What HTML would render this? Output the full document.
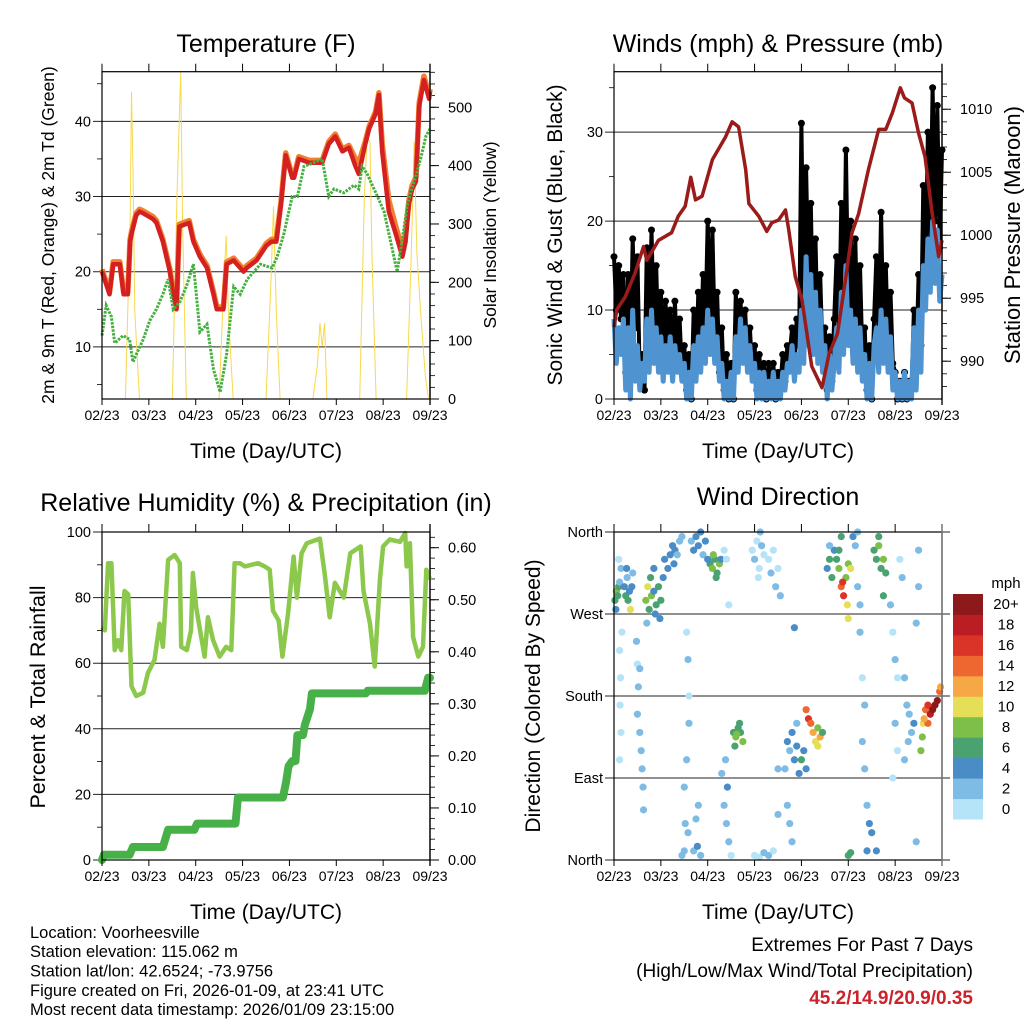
<!DOCTYPE html>
<html><head><meta charset="utf-8"><style>
html,body{margin:0;padding:0;background:#fff;}
svg{display:block;font-family:"Liberation Sans",sans-serif;}
</style></head><body>
<svg id="chart" width="1024" height="1024" viewBox="0 0 1024 1024" xmlns="http://www.w3.org/2000/svg">
<g id="texts" fill="#000">
<text x="266" y="52" font-size="25" text-anchor="middle">Temperature (F)</text>
<text x="778" y="52" font-size="25" text-anchor="middle">Winds (mph) &amp; Pressure (mb)</text>
<text x="266" y="511" font-size="25" text-anchor="middle">Relative Humidity (%) &amp; Precipitation (in)</text>
<text x="778" y="505" font-size="25" text-anchor="middle">Wind Direction</text>
<text x="266" y="458" font-size="21" text-anchor="middle">Time (Day/UTC)</text>
<text x="778" y="458" font-size="21" text-anchor="middle">Time (Day/UTC)</text>
<text x="266" y="919" font-size="21" text-anchor="middle">Time (Day/UTC)</text>
<text x="778" y="919" font-size="21" text-anchor="middle">Time (Day/UTC)</text>
<text transform="translate(54,235) rotate(-90)" font-size="17.5" text-anchor="middle">2m &amp; 9m T (Red, Orange) &amp; 2m Td (Green)</text>
<text transform="translate(496,235) rotate(-90)" font-size="17.5" text-anchor="middle">Solar Insolation (Yellow)</text>
<text transform="translate(562,235) rotate(-90)" font-size="21" text-anchor="middle">Sonic Wind &amp; Gust (Blue, Black)</text>
<text transform="translate(1020,235) rotate(-90)" font-size="22" text-anchor="middle">Station Pressure (Maroon)</text>
<text transform="translate(45,697) rotate(-90)" font-size="21.5" text-anchor="middle">Percent &amp; Total Rainfall</text>
<text transform="translate(540,696) rotate(-90)" font-size="21" text-anchor="middle">Direction (Colored By Speed)</text>
<text x="30" y="938" font-size="16.5">Location: Voorheesville</text>
<text x="30" y="957" font-size="16.5">Station elevation: 115.062 m</text>
<text x="30" y="976.5" font-size="16.5">Station lat/lon: 42.6524; -73.9756</text>
<text x="30" y="996" font-size="16.5">Figure created on Fri, 2026-01-09, at 23:41 UTC</text>
<text x="30" y="1015" font-size="16.5">Most recent data timestamp: 2026/01/09 23:15:00</text>
<text x="973" y="951" font-size="19" text-anchor="end">Extremes For Past 7 Days</text>
<text x="973" y="977" font-size="19" text-anchor="end">(High/Low/Max Wind/Total Precipitation)</text>
<text x="973" y="1004" font-size="19" font-weight="bold" fill="#cc2229" text-anchor="end">45.2/14.9/20.9/0.35</text>
<text x="1006" y="588" font-size="15" text-anchor="middle">mph</text>
</g>
</svg>
<script>
// ---------- data ----------
var monthLabels = ["02/23","03/23","04/23","05/23","06/23","07/23","08/23","09/23"];
var tempTimes = [0,0.16,0.24,0.38,0.46,0.55,0.6,0.63,0.73,0.8,0.87,1.09,1.16,1.3,1.45,1.52,1.59,1.65,1.86,1.95,2.09,2.24,2.38,2.45,2.59,2.66,2.81,2.88,3.02,3.09,3.3,3.51,3.62,3.72,3.82,3.92,4.06,4.1,4.2,4.42,4.63,4.7,4.84,4.98,5.13,5.27,5.41,5.48,5.62,5.7,5.84,5.91,5.98,6.12,6.27,6.41,6.48,6.55,6.62,6.7,6.77,6.87,6.98,7.0];
var tempRed = [20,17,21,21,17,17,24,25,27.5,28,27.8,27,26.5,24,20,17,15,26,26.5,24,22,20.5,17,15,15,21,21.5,21,20,20.5,21.5,23.5,24,24,29,35.5,32.5,32.5,35,34.5,34.5,34.5,37,38,36,36.5,34,33,37,39,41,43.5,36,28,25,22,24,29,31,32,42,45.5,43,44];
var tempOrange = [20.3,17.3,21.3,21.3,17.3,17.3,24.3,25.3,27.8,28.3,28.1,27.3,26.8,24.3,20.3,17.3,15.3,26.3,26.8,24.3,22.3,20.8,17.3,15.3,15.3,21.3,21.8,21.3,20.3,20.8,21.8,23.8,24.3,24.3,29.3,35.8,32.8,32.8,35.3,34.8,34.8,34.8,37.3,38.3,36.3,36.8,35,34.5,37.3,39.3,41.3,43.8,37,29.5,26,23,25,29.5,31.5,32.5,42.5,46,43.5,44.3];
var dewTimes = [0,0.09,0.2,0.27,0.45,0.59,0.66,0.88,1.02,1.16,1.3,1.41,1.52,1.66,1.8,1.95,2.09,2.24,2.38,2.52,2.66,2.81,2.95,3.1,3.38,3.63,3.74,3.88,4.06,4.17,4.31,4.52,4.7,4.84,4.95,5.16,5.38,5.48,5.55,5.66,5.88,6.02,6.3,6.45,6.52,6.66,6.8,6.91,7.0];
var dewValues = [11.5,15.5,14,10.5,11.5,11,8,11,13.5,15,17,19,15,16,18,21,12,13,7,4,9,18,17,19,21,20.5,22,25,30,30,34,34.5,35,30,31,30.5,31.5,31,34,33,30,28,20,26,29,32,35,38,39];
var solarTimes = [0.5,0.6,0.63,0.66,0.7,0.8,1.5,1.6,1.68,1.72,1.8,2.5,2.6,2.65,2.7,2.8,3.5,3.6,3.66,3.72,3.8,4.5,4.6,4.65,4.7,4.75,4.8,5.5,5.6,5.66,5.72,5.76,5.85,6.5,6.6,6.66,6.72,6.8,6.9,6.96,7.0];
var solarValues = [0,300,527,400,150,0,0,350,560,300,0,0,200,280,140,0,0,190,330,150,0,0,60,130,90,130,0,0,350,450,440,250,0,0,250,440,250,150,40,5,0];
var windTimes = [];
var windBlue = [9,4,8,5,9, 1,8,0,10,2,6,1,4,2, 9,3,10,4,8,3, 7,2,6,3,7,2,6,3,5,2, 4,0,3,0, 6,2,7,3,8,4,10,5,9,4, 7,2,4,0, 2,0,3,0, 7,3,9,4,8,3,6,2, 4,0,3,0,3,0, 2,0,3,0,2,0,3,1,4, 3,6,2,5,3, 10,4,16,6, 14,5,12,4,10,3, 6,0,5,1,4, 8,3,12,5,15,6, 10,4,9,3,8,2, 5,0,4,0,6, 8,3,10,4,9,3,7,1, 3,0,2,0,3,0,2,0, 8,1,10,3, 15,10,18,12,20,13,19,11,14];
var windGust = [16,10,15,9,14, 3,14,5,18,8,16,2,5,1, 17,6,19,8,15,5, 12,4,11,5,10,3,11,4,9,3, 6,1,5,0, 10,3,12,5,14,8,20,9,19,7, 12,3,8,1, 5,0,4,0, 12,5,11,6,10,4,8,3, 6,1,5,1,4,0, 4,1,4,0,3,1,5,2,6, 5,8,4,9,6, 31,10,26,12, 22,8,18,6,14,5, 8,1,7,2,9, 16,6,22,8,28,10, 20,7,18,6,15,5, 8,1,6,0,9, 16,6,21,7,15,6,12,4, 3,0,2,0,3,0,2,1, 10,4,14,6, 24,15,30,18,35,20,33,17,28];
for (var wi = 0; wi < windBlue.length; wi++) windTimes.push(wi * 0.05);
var presTimes = [0,0.06,0.24,0.45,0.63,0.7,0.95,1.23,1.37,1.52,1.64,1.74,1.88,2.1,2.38,2.52,2.66,2.81,2.88,3.09,3.26,3.37,3.51,3.66,3.73,3.87,4.01,4.22,4.44,4.59,4.77,4.95,5.08,5.22,5.43,5.65,5.8,5.94,6.11,6.2,6.36,6.5,6.64,6.78,6.93,7.0];
var presValues = [992.7,994.1,995.1,997,999.1,998,999.6,1000.2,1001.5,1002.3,1004.6,1002.8,1003.1,1006,1007.8,1009,1008.6,1005.2,1002.5,1001.5,1000.3,1001,1001.2,1002,1000.4,996.7,994.9,989.6,987.9,990.6,992.2,996.7,1000.2,1001.7,1005.2,1008.4,1008.4,1009.7,1011.7,1010.9,1010.5,1008.1,1006.2,1002,998.3,999.6];
var rhTimes = [0,0.06,0.13,0.2,0.27,0.34,0.41,0.48,0.56,0.63,0.73,0.88,0.98,1.12,1.23,1.3,1.41,1.55,1.66,1.69,1.81,1.9,1.94,2.01,2.08,2.19,2.26,2.37,2.51,2.65,2.76,2.83,2.94,3.05,3.33,3.47,3.58,3.65,3.77,3.85,3.97,4.09,4.16,4.26,4.37,4.65,4.76,4.86,4.97,5.16,5.3,5.52,5.58,5.72,5.82,5.93,6.0,6.14,6.36,6.47,6.5,6.57,6.64,6.75,6.85,6.92,7.0];
var rhValues = [71,70,90.5,90.5,64,67,64,82,81,53,50,51,57,61,72,65,91.5,93,90.5,65,64,70,87.5,77,71,62,74,67,62,65,64,90.5,90.5,89.5,90.5,89.5,88.5,76,73,62,75,92.5,80,93.5,96.6,98,86.5,74,84.5,80,93.5,95.6,82,72,59,85.5,95.6,97.7,97,99.7,89.5,96.6,68,62,65,88.5,85.5];
var rainTimes = [0,0.04,0.59,0.66,1.3,1.41,1.97,2.03,2.85,2.9,3.86,3.93,3.98,4.06,4.13,4.17,4.29,4.33,4.44,4.48,4.55,5.63,5.67,6.89,6.96,7.0];
var rainValues = [0,0.01,0.01,0.025,0.025,0.058,0.058,0.07,0.07,0.12,0.12,0.15,0.18,0.19,0.19,0.24,0.24,0.26,0.29,0.32,0.32,0.32,0.325,0.325,0.35,0.35];
var dirTimes = [0.02,0.05,0.08,0.1,0.04,0.12,0.15,0.1,0.22,0.25,0.28,0.3,0.33,0.35,0.38,0.4,0.27,0.12,0.14,0.13,0.15,0.12,0.17,0.48,0.5,0.52,0.5,0.55,0.58,0.6,0.62,0.63,0.55,0.68,0.72,0.75,0.78,0.8,0.85,0.88,0.9,0.95,0.98,1.0,1.05,0.85,0.7,1.08,1.15,1.2,1.25,1.3,1.35,1.4,1.28,1.45,1.55,1.58,1.6,1.6,1.55,1.5,1.52,1.5,1.45,1.58,1.65,1.7,1.75,1.8,1.85,1.9,1.95,1.7,1.75,1.8,1.78,1.85,2.05,2.1,2.15,2.2,2.25,2.12,2.18,2.0,2.28,2.35,2.4,2.45,2.3,2.35,2.4,2.45,2.5,2.38,2.42,2.55,2.6,2.65,2.7,2.75,2.58,2.68,2.62,2.95,3.0,3.05,3.1,3.15,3.2,3.08,3.12,3.0,3.1,3.2,3.3,3.35,3.4,3.45,3.5,3.55,3.3,3.4,3.5,3.5,3.7,3.75,3.8,3.85,3.9,3.65,3.7,3.75,3.8,3.85,3.9,3.95,4.1,4.15,4.2,4.25,4.3,4.35,4.4,4.45,4.0,4.05,4.1,4.35,4.55,4.6,4.65,4.7,4.6,4.75,4.8,4.85,4.9,4.95,5.0,5.05,4.88,4.98,5.0,4.8,4.85,5.1,5.15,5.2,5.2,5.25,5.0,5.05,5.25,5.3,5.35,5.3,5.35,5.4,5.45,5.5,5.4,5.55,5.6,5.65,5.7,5.75,5.8,5.65,5.75,5.6,5.9,5.95,6.0,6.05,6.0,6.05,5.95,6.1,6.15,6.2,6.25,6.3,6.35,6.2,6.28,6.4,6.45,6.5,6.5,6.45,6.55,6.58,6.6,6.65,6.7,6.75,6.8,6.85,6.9,6.95,6.97,6.7,6.62];
var dirDegrees = [285,295,290,300,275,305,320,330,300,290,310,285,295,275,300,315,320,230,200,170,140,110,250,240,215,190,160,140,120,100,80,55,210,285,300,275,310,290,295,270,280,300,265,285,310,320,260,330,320,335,345,340,335,350,325,355,250,220,180,150,110,80,40,10,5,30,350,340,355,345,360,335,350,10,45,60,15,5,325,320,330,315,325,335,310,330,330,340,330,280,95,60,40,20,5,110,80,140,135,145,140,130,125,150,138,340,330,350,320,345,335,310,360,5,3,8,330,315,340,300,320,290,5,10,50,100,130,120,140,110,125,100,60,40,20,255,150,95,165,155,150,140,130,125,135,140,110,120,100,145,320,330,310,340,345,330,320,300,290,310,325,320,305,280,265,340,355,355,345,360,300,280,5,8,250,200,170,130,100,60,40,30,10,340,330,345,320,330,315,355,290,10,280,250,220,200,150,120,90,330,310,200,170,160,140,110,130,150,260,300,340,20,120,135,150,165,170,160,165,170,175,185,190,150,155];
var dirSpeeds = [7,8,6,7,5,3,2,1,4,6,3,7,5,10,4,2,4,1,0,1,1,0,1,2,1,2,2,3,2,3,2,3,2,9,10,6,7,8,5,4,7,6,5,7,4,5,3,5,4,5,4,5,3,3,4,2,1,2,1,2,2,3,3,2,3,2,3,4,4,5,4,3,4,3,2,3,4,3,7,8,6,7,8,9,7,5,4,1,1,0,2,3,2,2,1,3,4,7,8,7,6,8,6,6,9,1,2,1,1,2,1,0,2,1,0,2,1,2,1,2,1,2,2,1,3,2,4,3,4,4,5,2,2,3,2,4,3,4,15,16,14,12,10,10,12,6,6,5,4,8,5,6,7,4,3,7,8,14,17,8,9,10,16,10,10,6,7,4,3,3,2,2,7,6,2,1,2,3,2,3,4,4,4,7,6,8,7,8,6,6,7,4,2,1,2,1,2,1,1,1,2,2,2,3,2,2,3,4,2,3,2,2,8,9,10,14,16,18,20,22,20,14,12,15,12];
var speedBinLabels = ["0","2","4","6","8","10","12","14","16","18","20+"];
var speedBinColors = ["#b5e3f8","#7fbce5","#4a8cc6","#4aa270","#7dbf48","#e4df57","#f5a845","#ee6630","#da3428","#bb1d24","#8d1a1b"];

// ---------- helpers ----------
var NS = "http://www.w3.org/2000/svg";
var svg = document.getElementById("chart");
function mk(tag, attrs, parent) {
  var e = document.createElementNS(NS, tag);
  for (var k in attrs) e.setAttribute(k, attrs[k]);
  (parent || svg).appendChild(e);
  return e;
}
function lin(d0, d1, r0, r1) { return function (v) { return r0 + (v - d0) / (d1 - d0) * (r1 - r0); }; }
function poly(xs, ys, sx, sy) {
  var p = [];
  for (var i = 0; i < xs.length; i++) p.push(sx(xs[i]).toFixed(1) + "," + sy(ys[i]).toFixed(1));
  return p.join(" ");
}

function panel(name, x0, x1, y0, y1) {
  var g = mk("g", {});
  
  
  var sx = lin(0, 7, x0, x1);
  return { g: g, sx: sx, x0: x0, x1: x1, y0: y0, y1: y1 };
}
function frameAndXAxis(P, name) {
  var fr = mk("rect", { x: P.x0, y: P.y0, width: P.x1 - P.x0, height: P.y1 - P.y0, fill: "none", stroke: "#000", "stroke-width": 1.2 }, P.g);
  
  
  for (var i = 0; i < monthLabels.length; i++) {
    var x = P.sx(i);
    var tk = mk("line", { x1: x, x2: x, y1: P.y1, y2: P.y1 + 6, stroke: "#000" }, P.g);
    
    
    var tt = mk("line", { x1: x, x2: x, y1: P.y0, y2: P.y0 - 8, stroke: "#000" }, P.g);
    
    
    var lb = mk("text", { x: x, y: P.y1 + 21, "font-size": 14, "text-anchor": "middle" }, P.g);
    lb.textContent = monthLabels[i];
    
    
  }
}
function leftAxis(P, sy, majors, minors, fmt, gridRight) {
  for (var i = 0; i < minors.length; i++) {
    var y = sy(minors[i]);
    var m = mk("line", { x1: P.x0 - 5, x2: P.x0, y1: y, y2: y, stroke: "#000", "stroke-width": 0.8 }, P.g);
    
    
  }
  for (var j = 0; j < majors.length; j++) {
    var yy = sy(majors[j]);
    var gl = mk("line", { x1: P.x0 - 9, x2: gridRight || P.x1, y1: yy, y2: yy, stroke: "#222", "stroke-width": 1 }, P.g);
    
    
    var t = mk("text", { x: P.x0 - 11, y: yy + 5, "font-size": 14.5, "text-anchor": "end" }, P.g);
    t.textContent = fmt(majors[j]);
    
    
  }
}
function rightAxis(P, sy, majors, minors, fmt) {
  var ax = mk("line", { x1: P.x1, x2: P.x1, y1: P.y0 - 8, y2: P.y1 + 6, stroke: "#555", "stroke-width": 1.5 }, P.g);
  
  
  for (var i = 0; i < minors.length; i++) {
    var y = sy(minors[i]);
    var m = mk("line", { x1: P.x1, x2: P.x1 + 5, y1: y, y2: y, stroke: "#000", "stroke-width": 0.8 }, P.g);
    
    
  }
  for (var j = 0; j < majors.length; j++) {
    var yy = sy(majors[j]);
    var tk = mk("line", { x1: P.x1, x2: P.x1 + 9, y1: yy, y2: yy, stroke: "#000" }, P.g);
    
    
    var t = mk("text", { x: P.x1 + 18, y: yy + 5, "font-size": 14.5 }, P.g);
    t.textContent = fmt(majors[j]);
    
    
  }
}
function range(a, b, s) { var r = []; for (var v = a; v <= b + 1e-9; v += s) r.push(+v.toFixed(4)); return r; }

// ---------- Panel 1: temperature ----------
var P1 = panel("temperature", 102, 430, 71.7, 399);
var tY = lin(3.07, 46.6, 399, 71.7);
var sY = lin(0, 561, 399, 71.7);
leftAxis(P1, tY, [10, 20, 30, 40], [5, 15, 25, 35, 45], String);
rightAxis(P1, sY, [0, 100, 200, 300, 400, 500], range(0, 560, 20), String);
var solar = mk("polyline", { points: poly(solarTimes, solarValues, P1.sx, sY), fill: "none", stroke: "#f7d94c", "stroke-width": 1 }, P1.g);


var orange = mk("polyline", { points: poly(tempTimes, tempOrange, P1.sx, tY), fill: "none", stroke: "#f08030", "stroke-width": 5.5, "stroke-linejoin": "round" }, P1.g);


var red = mk("polyline", { points: poly(tempTimes, tempRed, P1.sx, tY), fill: "none", stroke: "#d42020", "stroke-width": 4.5, "stroke-linejoin": "round" }, P1.g);


var dew = mk("polyline", { points: poly(dewTimes, dewValues, P1.sx, tY), fill: "none", stroke: "#44b040", "stroke-width": 3, "stroke-dasharray": "2.5,1.2" }, P1.g);


frameAndXAxis(P1, "temperature");

// ---------- Panel 2: winds ----------
var P2 = panel("winds", 614, 942, 71.7, 399);
var wY = lin(0, 36.8, 399, 71.7);
var pY = lin(987.0, 1012.98, 399, 71.7);
leftAxis(P2, wY, [0, 10, 20, 30], [5, 15, 25, 35], String);
rightAxis(P2, pY, [990, 995, 1000, 1005, 1010], range(988, 1012, 1), String);
var gustLine = mk("polyline", { points: poly(windTimes, windGust, P2.sx, wY), fill: "none", stroke: "#000", "stroke-width": 4, "stroke-linejoin": "round" }, P2.g);


for (var gi = 0; gi < windGust.length; gi++) {
  var gd = mk("circle", { cx: P2.sx(windTimes[gi]), cy: wY(windGust[gi]), r: 3.5, fill: "#000" }, P2.g);
  
  
}
var blue = mk("polyline", { points: poly(windTimes, windBlue, P2.sx, wY), fill: "none", stroke: "#4f94d0", "stroke-width": 5, "stroke-linejoin": "round" }, P2.g);


var pres = mk("polyline", { points: poly(presTimes, presValues, P2.sx, pY), fill: "none", stroke: "#9b1b1b", "stroke-width": 3.5, "stroke-linejoin": "round" }, P2.g);


frameAndXAxis(P2, "winds");

// ---------- Panel 3: humidity ----------
var P3 = panel("humidity", 102, 430, 532, 860);
var hY = lin(0, 100, 860, 532);
var rY = lin(0, 0.6, 860, 547.7);
leftAxis(P3, hY, [0, 20, 40, 60, 80, 100], [10, 30, 50, 70, 90], String);
rightAxis(P3, rY, [0, 0.1, 0.2, 0.3, 0.4, 0.5, 0.6], range(0, 0.62, 0.02), function (v) { return v.toFixed(2); });
var rh = mk("polyline", { points: poly(rhTimes, rhValues, P3.sx, hY), fill: "none", stroke: "#8cc84b", "stroke-width": 4.5, "stroke-linejoin": "round" }, P3.g);


var rain = mk("polyline", { points: poly(rainTimes, rainValues, P3.sx, rY), fill: "none", stroke: "#48b048", "stroke-width": 8, "stroke-linejoin": "round", "stroke-linecap": "round" }, P3.g);


frameAndXAxis(P3, "humidity");

// ---------- Panel 4: wind direction ----------
var P4 = panel("wind-direction", 614, 942, 532, 860);
var dY = lin(0, 360, 860, 532);
leftAxis(P4, dY, [0, 90, 180, 270, 360], [], function (v) { return ({0: "North", 90: "East", 180: "South", 270: "West", 360: "North"})[v]; }, 950);
function speedColor(s) { var b = Math.min(10, Math.floor(s / 2)); return speedBinColors[b]; }
for (var di = 0; di < dirTimes.length; di++) {
  var c = mk("circle", { cx: P4.sx(dirTimes[di]), cy: dY(dirDegrees[di]), r: 3.6, fill: speedColor(dirSpeeds[di]) }, P4.g);
  
  
}
frameAndXAxis(P4, "wind-direction");
var rl = mk("line", { x1: 942, x2: 942, y1: 524, y2: 866, stroke: "#777", "stroke-width": 1.5 }, P4.g);



// colorbar
var cb = mk("g", {});


var cbTop = 594, cbBot = 819, cbH = (cbBot - cbTop) / speedBinColors.length;
for (var ci = 0; ci < speedBinColors.length; ci++) {
  var yTop = cbBot - (ci + 1) * cbH;
  var sw = mk("rect", { x: 953, y: yTop, width: 30, height: cbH + 0.5, fill: speedBinColors[ci] }, cb);
  
  
  var st = mk("text", { x: 1006, y: yTop + cbH / 2 + 5, "font-size": 15, "text-anchor": "middle" }, cb);
  st.textContent = speedBinLabels[ci];
  
  
}
</script>
</body></html>
